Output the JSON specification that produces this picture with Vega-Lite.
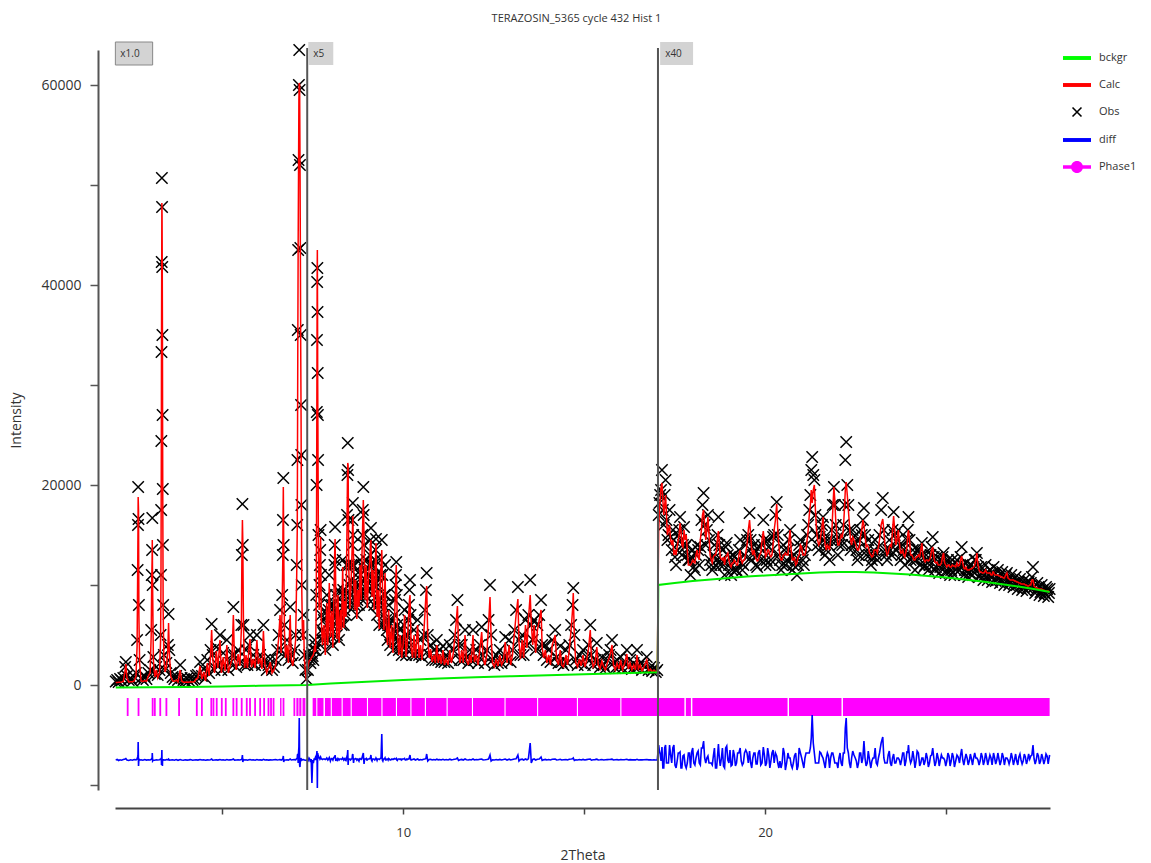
{
"$schema":"https://vega.github.io/schema/vega-lite/v6.json",
"autosize":"none",
"width":935,"height":740,
"padding":{"left":115,"top":50,"right":101,"bottom":73},
"background":"white",
"title":{"text":"TERAZOSIN_5365 cycle 432 Hist 1","fontSize":11,"font":"Open Sans","fontWeight":"normal","color":"#333333","anchor":"middle","offset":17,"dx":-6},
"config":{"view":{"stroke":null},"font":"Open Sans"},
"datasets":{
"pattern":[
{"t":2.06,"obs":350,"calc":250,"diff":-7500},{"t":2.1,"obs":500,"calc":260,"diff":-7450},{"t":2.14,"obs":300,"calc":270,"diff":-7550},{"t":2.18,"obs":600,"calc":280,"diff":-7480},{"t":2.22,"obs":450,"calc":300,"diff":-7520},{"t":2.27,"obs":700,"calc":350,"diff":-7450},{"t":2.32,"obs":1800,"calc":1500,"diff":-7400},{"t":2.34,"obs":2300,"calc":2100,"diff":-7350},{"t":2.37,"obs":900,"calc":700,"diff":-7500},{"t":2.42,"obs":500,"calc":300,"diff":-7550},{"t":2.47,"obs":700,"calc":320,"diff":-7480},{"t":2.52,"obs":400,"calc":330,"diff":-7520},{"t":2.57,"obs":800,"calc":400,"diff":-7450},{"t":2.62,"obs":1200,"calc":900,"diff":-7480},{"t":2.65,"obs":4500,"calc":3800,"diff":-7400},{"t":2.665,"obs":11500,"calc":10500,"diff":-7200},{"t":2.675,"obs":16000,"calc":15500,"diff":-7000},{"t":2.68,"obs":19800,"calc":18800,"diff":-5700},{"t":2.69,"obs":16600,"calc":17500,"diff":-8100},{"t":2.70,"obs":8000,"calc":7000,"diff":-7400},{"t":2.72,"obs":2500,"calc":2200,"diff":-7500},{"t":2.76,"obs":700,"calc":400,"diff":-7480},{"t":2.81,"obs":500,"calc":350,"diff":-7520},{"t":2.86,"obs":900,"calc":450,"diff":-7450},{"t":2.91,"obs":600,"calc":380,"diff":-7510},{"t":2.96,"obs":1200,"calc":900,"diff":-7480},{"t":3.01,"obs":1500,"calc":1200,"diff":-7500},{"t":3.04,"obs":5500,"calc":5000,"diff":-7450},{"t":3.055,"obs":11000,"calc":10500,"diff":-7350},{"t":3.065,"obs":13500,"calc":12500,"diff":-7300},{"t":3.07,"obs":16700,"calc":14500,"diff":-6800},{"t":3.08,"obs":10000,"calc":9500,"diff":-7600},{"t":3.10,"obs":2800,"calc":2500,"diff":-7500},{"t":3.14,"obs":1100,"calc":800,"diff":-7520},{"t":3.18,"obs":1800,"calc":1500,"diff":-7480},{"t":3.22,"obs":1000,"calc":700,"diff":-7500},{"t":3.27,"obs":1500,"calc":1200,"diff":-7470},{"t":3.30,"obs":5000,"calc":4500,"diff":-7400},{"t":3.31,"obs":11000,"calc":10500,"diff":-7450},{"t":3.315,"obs":17500,"calc":17000,"diff":-7400},{"t":3.32,"obs":24400,"calc":23500,"diff":-7300},{"t":3.325,"obs":33300,"calc":35000,"diff":-8000},{"t":3.33,"obs":42300,"calc":41000,"diff":-7200},{"t":3.335,"obs":50700,"calc":48200,"diff":-6500},{"t":3.34,"obs":47800,"calc":47000,"diff":-7700},{"t":3.345,"obs":41800,"calc":42000,"diff":-7600},{"t":3.35,"obs":35000,"calc":36000,"diff":-8100},{"t":3.355,"obs":27000,"calc":26000,"diff":-7400},{"t":3.36,"obs":19600,"calc":18500,"diff":-7600},{"t":3.365,"obs":14000,"calc":13000,"diff":-7450},{"t":3.37,"obs":8000,"calc":7500,"diff":-7500},{"t":3.39,"obs":3000,"calc":2800,"diff":-7480},{"t":3.42,"obs":1500,"calc":1300,"diff":-7520},{"t":3.46,"obs":2200,"calc":1800,"diff":-7450},{"t":3.50,"obs":4000,"calc":3500,"diff":-7480},{"t":3.52,"obs":7100,"calc":6200,"diff":-7400},{"t":3.54,"obs":3500,"calc":3300,"diff":-7520},{"t":3.58,"obs":1200,"calc":900,"diff":-7500},{"t":3.63,"obs":800,"calc":400,"diff":-7480},{"t":3.68,"obs":600,"calc":350,"diff":-7520},{"t":3.73,"obs":900,"calc":500,"diff":-7460},{"t":3.78,"obs":500,"calc":300,"diff":-7530},{"t":3.84,"obs":2000,"calc":1500,"diff":-7450},{"t":3.88,"obs":700,"calc":400,"diff":-7500},{"t":3.93,"obs":500,"calc":280,"diff":-7520},{"t":3.98,"obs":400,"calc":270,"diff":-7480},{"t":4.03,"obs":650,"calc":300,"diff":-7510},{"t":4.08,"obs":450,"calc":280,"diff":-7490},{"t":4.13,"obs":700,"calc":320,"diff":-7460},{"t":4.18,"obs":500,"calc":300,"diff":-7520},{"t":4.23,"obs":600,"calc":330,"diff":-7500},{"t":4.28,"obs":900,"calc":600,"diff":-7480},{"t":4.33,"obs":1000,"calc":700,"diff":-7510},{"t":4.39,"obs":2300,"calc":1900,"diff":-7450},{"t":4.44,"obs":900,"calc":600,"diff":-7500},{"t":4.49,"obs":1600,"calc":1300,"diff":-7480},{"t":4.54,"obs":700,"calc":400,"diff":-7520},{"t":4.59,"obs":2500,"calc":2200,"diff":-7490},{"t":4.64,"obs":1200,"calc":900,"diff":-7500},{"t":4.68,"obs":3500,"calc":3000,"diff":-7470},{"t":4.71,"obs":6100,"calc":5500,"diff":-7400},{"t":4.74,"obs":3000,"calc":2600,"diff":-7520},{"t":4.79,"obs":1500,"calc":1200,"diff":-7500},{"t":4.84,"obs":3800,"calc":3400,"diff":-7480},{"t":4.88,"obs":2000,"calc":1700,"diff":-7510},{"t":4.94,"obs":5000,"calc":4500,"diff":-7450},{"t":4.98,"obs":1500,"calc":1200,"diff":-7500},{"t":5.03,"obs":3200,"calc":2800,"diff":-7480},{"t":5.08,"obs":1800,"calc":1400,"diff":-7520},{"t":5.13,"obs":4500,"calc":4000,"diff":-7460},{"t":5.17,"obs":1500,"calc":1200,"diff":-7500},{"t":5.22,"obs":2200,"calc":1900,"diff":-7490},{"t":5.27,"obs":3000,"calc":2600,"diff":-7480},{"t":5.31,"obs":7800,"calc":7000,"diff":-7400},{"t":5.34,"obs":3000,"calc":2600,"diff":-7510},{"t":5.39,"obs":1800,"calc":1500,"diff":-7500},{"t":5.44,"obs":3500,"calc":3100,"diff":-7480},{"t":5.49,"obs":2200,"calc":1900,"diff":-7500},{"t":5.53,"obs":6000,"calc":5500,"diff":-7450},{"t":5.545,"obs":13000,"calc":12500,"diff":-7400},{"t":5.56,"obs":18100,"calc":16500,"diff":-7000},{"t":5.57,"obs":14000,"calc":14500,"diff":-7700},{"t":5.59,"obs":6000,"calc":5600,"diff":-7450},{"t":5.62,"obs":2000,"calc":1700,"diff":-7500},{"t":5.66,"obs":3500,"calc":3000,"diff":-7480},{"t":5.70,"obs":2000,"calc":1700,"diff":-7520},{"t":5.74,"obs":4000,"calc":3600,"diff":-7470},{"t":5.77,"obs":5000,"calc":4600,"diff":-7450},{"t":5.81,"obs":2200,"calc":1800,"diff":-7500},{"t":5.86,"obs":3000,"calc":2600,"diff":-7480},{"t":5.91,"obs":2000,"calc":1700,"diff":-7520},{"t":5.96,"obs":5000,"calc":4500,"diff":-7450},{"t":6.00,"obs":2500,"calc":2100,"diff":-7500},{"t":6.05,"obs":3000,"calc":2700,"diff":-7490},{"t":6.10,"obs":2000,"calc":1600,"diff":-7510},{"t":6.14,"obs":6000,"calc":5400,"diff":-7430},{"t":6.18,"obs":2500,"calc":2100,"diff":-7500},{"t":6.23,"obs":1500,"calc":1200,"diff":-7480},{"t":6.28,"obs":2000,"calc":1700,"diff":-7510},{"t":6.33,"obs":2600,"calc":2300,"diff":-7490},{"t":6.38,"obs":1500,"calc":1200,"diff":-7500},{"t":6.43,"obs":1800,"calc":1500,"diff":-7480},{"t":6.48,"obs":2500,"calc":2000,"diff":-7460},{"t":6.52,"obs":3500,"calc":3200,"diff":-7500},{"t":6.56,"obs":5000,"calc":4600,"diff":-7480},{"t":6.60,"obs":7500,"calc":7000,"diff":-7450},{"t":6.63,"obs":3500,"calc":3200,"diff":-7500},{"t":6.66,"obs":9000,"calc":8500,"diff":-7450},{"t":6.675,"obs":13000,"calc":12500,"diff":-7400},{"t":6.68,"obs":16500,"calc":15500,"diff":-7300},{"t":6.69,"obs":20700,"calc":19800,"diff":-7100},{"t":6.70,"obs":14000,"calc":14500,"diff":-7700},{"t":6.72,"obs":6000,"calc":5500,"diff":-7480},{"t":6.75,"obs":3000,"calc":2700,"diff":-7500},{"t":6.79,"obs":4500,"calc":4000,"diff":-7470},{"t":6.83,"obs":2500,"calc":2200,"diff":-7510},{"t":6.88,"obs":7800,"calc":7000,"diff":-7400},{"t":6.91,"obs":3000,"calc":2600,"diff":-7500},{"t":6.95,"obs":2200,"calc":1900,"diff":-7480},{"t":6.99,"obs":3500,"calc":3000,"diff":-7460},{"t":7.03,"obs":5000,"calc":4500,"diff":-7480},{"t":7.06,"obs":12000,"calc":11000,"diff":-7350},{"t":7.075,"obs":16000,"calc":15500,"diff":-7300},{"t":7.08,"obs":22500,"calc":21000,"diff":-7000},{"t":7.09,"obs":35500,"calc":34000,"diff":-6900},{"t":7.10,"obs":43500,"calc":44000,"diff":-7800},{"t":7.11,"obs":52500,"calc":51000,"diff":-6800},{"t":7.12,"obs":60000,"calc":58500,"diff":-6200},{"t":7.13,"obs":63500,"calc":60200,"diff":-3300},{"t":7.14,"obs":59500,"calc":60000,"diff":-8000},{"t":7.15,"obs":52000,"calc":53000,"diff":-8200},{"t":7.16,"obs":43700,"calc":44000,"diff":-7600},{"t":7.17,"obs":35000,"calc":34000,"diff":-7300},{"t":7.18,"obs":28000,"calc":27000,"diff":-7400},{"t":7.185,"obs":23000,"calc":22000,"diff":-7400},{"t":7.19,"obs":18000,"calc":17500,"diff":-7500},{"t":7.20,"obs":10000,"calc":9500,"diff":-7450},{"t":7.22,"obs":5000,"calc":4500,"diff":-7480},{"t":7.25,"obs":7000,"calc":6500,"diff":-7450},{"t":7.27,"obs":3000,"calc":2800,"diff":-7500},{"t":7.30,"obs":1500,"calc":1200,"diff":-7520},{"t":7.33,"obs":600,"calc":400,"diff":-7500},
{"t":7.37,"obs":1500,"calc":1800,"diff":-7600},{"t":7.40,"obs":3000,"calc":2400,"diff":-7300},{"t":7.44,"obs":2200,"calc":2500,"diff":-7700},{"t":7.48,"obs":3200,"calc":2800,"diff":-9800},{"t":7.52,"obs":2500,"calc":3000,"diff":-7800},{"t":7.56,"obs":4500,"calc":4000,"diff":-7400},{"t":7.58,"obs":3500,"calc":3300,"diff":-7500},{"t":7.60,"obs":9000,"calc":8000,"diff":-7200},{"t":7.61,"obs":20000,"calc":19000,"diff":-7000},{"t":7.615,"obs":27300,"calc":26000,"diff":-6800},{"t":7.62,"obs":34500,"calc":33000,"diff":-6600},{"t":7.625,"obs":40300,"calc":41000,"diff":-8200},{"t":7.63,"obs":41700,"calc":43500,"diff":-10300},{"t":7.635,"obs":37300,"calc":38000,"diff":-8000},{"t":7.64,"obs":31200,"calc":30000,"diff":-6800},{"t":7.645,"obs":27000,"calc":26000,"diff":-7000},{"t":7.65,"obs":22500,"calc":21500,"diff":-7000},{"t":7.66,"obs":15000,"calc":14000,"diff":-7100},{"t":7.68,"obs":8000,"calc":7500,"diff":-7300},{"t":7.70,"obs":12000,"calc":11500,"diff":-7400},{"t":7.72,"obs":15500,"calc":14800,"diff":-7200},{"t":7.74,"obs":7000,"calc":6500,"diff":-7400},{"t":7.77,"obs":4500,"calc":4000,"diff":-7450},{"t":7.81,"obs":6500,"calc":6000,"diff":-7400},{"t":7.85,"obs":3500,"calc":3000,"diff":-7450},{"t":7.89,"obs":9000,"calc":8200,"diff":-7300},{"t":7.92,"obs":4500,"calc":4000,"diff":-7500},{"t":7.96,"obs":11000,"calc":10200,"diff":-7250},{"t":7.99,"obs":5000,"calc":4800,"diff":-7600},{"t":8.03,"obs":8000,"calc":7400,"diff":-7350},{"t":8.06,"obs":4000,"calc":3700,"diff":-7500},{"t":8.10,"obs":12000,"calc":11000,"diff":-7200},{"t":8.12,"obs":15800,"calc":14600,"diff":-7000},{"t":8.14,"obs":9000,"calc":8800,"diff":-7600},{"t":8.17,"obs":5000,"calc":4600,"diff":-7400},{"t":8.20,"obs":9500,"calc":9000,"diff":-7350},{"t":8.23,"obs":4500,"calc":4200,"diff":-7500},{"t":8.27,"obs":8000,"calc":7500,"diff":-7400},{"t":8.30,"obs":6000,"calc":5500,"diff":-7450},{"t":8.33,"obs":12500,"calc":11800,"diff":-7300},{"t":8.36,"obs":6000,"calc":5700,"diff":-7500},{"t":8.39,"obs":9000,"calc":8400,"diff":-7350},{"t":8.42,"obs":7000,"calc":6800,"diff":-7550},{"t":8.45,"obs":17000,"calc":16000,"diff":-7100},{"t":8.47,"obs":24200,"calc":22200,"diff":-6500},{"t":8.48,"obs":21500,"calc":22000,"diff":-8000},{"t":8.50,"obs":12000,"calc":11500,"diff":-7400},{"t":8.53,"obs":8000,"calc":7600,"diff":-7450},{"t":8.56,"obs":10500,"calc":10000,"diff":-7400},{"t":8.59,"obs":14000,"calc":13500,"diff":-7350},{"t":8.61,"obs":18200,"calc":16900,"diff":-6900},{"t":8.63,"obs":12000,"calc":12500,"diff":-7800},{"t":8.66,"obs":8000,"calc":7500,"diff":-7400},{"t":8.69,"obs":11000,"calc":10500,"diff":-7350},{"t":8.72,"obs":7000,"calc":6600,"diff":-7500},{"t":8.75,"obs":10000,"calc":9500,"diff":-7400},{"t":8.78,"obs":8000,"calc":7800,"diff":-7600},{"t":8.81,"obs":12500,"calc":12000,"diff":-7350},{"t":8.84,"obs":9000,"calc":8500,"diff":-7450},{"t":8.87,"obs":15000,"calc":14200,"diff":-7200},{"t":8.90,"obs":19800,"calc":18500,"diff":-6800},{"t":8.92,"obs":14000,"calc":14500,"diff":-7900},{"t":8.95,"obs":9000,"calc":8500,"diff":-7400},{"t":8.98,"obs":12500,"calc":12000,"diff":-7350},{"t":9.01,"obs":8000,"calc":7700,"diff":-7500},{"t":9.04,"obs":11000,"calc":10500,"diff":-7400},{"t":9.08,"obs":13000,"calc":12500,"diff":-7350},{"t":9.11,"obs":15700,"calc":14500,"diff":-7000},{"t":9.14,"obs":9000,"calc":8800,"diff":-7600},{"t":9.17,"obs":12000,"calc":11500,"diff":-7400},{"t":9.20,"obs":8000,"calc":7500,"diff":-7450},{"t":9.23,"obs":12500,"calc":12000,"diff":-7400},{"t":9.25,"obs":14600,"calc":14200,"diff":-7300},{"t":9.28,"obs":7000,"calc":6800,"diff":-7550},{"t":9.31,"obs":10000,"calc":9500,"diff":-7400},{"t":9.34,"obs":6000,"calc":5600,"diff":-7450},{"t":9.37,"obs":11000,"calc":10500,"diff":-7350},{"t":9.41,"obs":14500,"calc":13500,"diff":-4900},{"t":9.44,"obs":8000,"calc":7800,"diff":-7600},{"t":9.47,"obs":6000,"calc":5500,"diff":-7400},{"t":9.50,"obs":12000,"calc":11200,"diff":-7300},{"t":9.53,"obs":6500,"calc":6200,"diff":-7500},{"t":9.57,"obs":4500,"calc":4000,"diff":-7400},{"t":9.60,"obs":8000,"calc":7500,"diff":-7350},{"t":9.64,"obs":4000,"calc":3700,"diff":-7500},{"t":9.68,"obs":6500,"calc":6000,"diff":-7400},{"t":9.72,"obs":3500,"calc":3200,"diff":-7450},{"t":9.76,"obs":7000,"calc":6400,"diff":-7350},{"t":9.79,"obs":10000,"calc":9500,"diff":-7400},{"t":9.81,"obs":12300,"calc":12000,"diff":-7350},{"t":9.84,"obs":6000,"calc":5800,"diff":-7550},{"t":9.88,"obs":3500,"calc":3000,"diff":-7400},{"t":9.92,"obs":5500,"calc":5000,"diff":-7450},{"t":9.96,"obs":3000,"calc":2700,"diff":-7500},{"t":10.00,"obs":4500,"calc":4000,"diff":-7400},{"t":10.04,"obs":7500,"calc":7000,"diff":-7350},{"t":10.08,"obs":3000,"calc":2800,"diff":-7500},{"t":10.12,"obs":5000,"calc":4600,"diff":-7450},{"t":10.16,"obs":8000,"calc":7500,"diff":-7400},{"t":10.19,"obs":10500,"calc":9000,"diff":-7000},{"t":10.22,"obs":4000,"calc":3800,"diff":-7500},{"t":10.26,"obs":3000,"calc":2700,"diff":-7450},{"t":10.30,"obs":5500,"calc":5000,"diff":-7400},{"t":10.34,"obs":3000,"calc":2700,"diff":-7500},{"t":10.40,"obs":6500,"calc":6000,"diff":-7400},{"t":10.44,"obs":3000,"calc":2700,"diff":-7500},{"t":10.48,"obs":4500,"calc":4000,"diff":-7450},{"t":10.52,"obs":2800,"calc":2500,"diff":-7500},{"t":10.56,"obs":5000,"calc":4500,"diff":-7420},{"t":10.60,"obs":7500,"calc":7000,"diff":-7400},{"t":10.63,"obs":9500,"calc":9000,"diff":-7350},{"t":10.65,"obs":11200,"calc":9900,"diff":-6900},{"t":10.68,"obs":5000,"calc":4800,"diff":-7600},{"t":10.72,"obs":3000,"calc":2700,"diff":-7450},{"t":10.76,"obs":4000,"calc":3600,"diff":-7430},{"t":10.80,"obs":2500,"calc":2300,"diff":-7500},{"t":10.85,"obs":3500,"calc":3000,"diff":-7450},{"t":10.89,"obs":2500,"calc":2200,"diff":-7500},{"t":10.93,"obs":4500,"calc":4000,"diff":-7420},{"t":10.97,"obs":2500,"calc":2200,"diff":-7480},{"t":11.01,"obs":3500,"calc":3100,"diff":-7450},{"t":11.05,"obs":2300,"calc":2100,"diff":-7500},{"t":11.10,"obs":3900,"calc":3500,"diff":-7430},{"t":11.14,"obs":2300,"calc":2000,"diff":-7500},{"t":11.19,"obs":3000,"calc":2600,"diff":-7450},{"t":11.24,"obs":2200,"calc":2000,"diff":-7500},{"t":11.29,"obs":4000,"calc":3500,"diff":-7420},{"t":11.33,"obs":2500,"calc":2200,"diff":-7480},{"t":11.38,"obs":3500,"calc":3000,"diff":-7450},{"t":11.42,"obs":5000,"calc":4500,"diff":-7420},{"t":11.46,"obs":6500,"calc":6000,"diff":-7400},{"t":11.50,"obs":8500,"calc":7900,"diff":-7300},{"t":11.53,"obs":4000,"calc":3800,"diff":-7550},{"t":11.57,"obs":2500,"calc":2200,"diff":-7480},{"t":11.62,"obs":4000,"calc":3500,"diff":-7440},{"t":11.66,"obs":2500,"calc":2200,"diff":-7500},{"t":11.71,"obs":5500,"calc":5000,"diff":-7400},{"t":11.75,"obs":2800,"calc":2500,"diff":-7480},{"t":11.80,"obs":2200,"calc":2000,"diff":-7500},{"t":11.84,"obs":3500,"calc":3000,"diff":-7450},{"t":11.88,"obs":2500,"calc":2200,"diff":-7500},{"t":11.93,"obs":5500,"calc":5000,"diff":-7400},{"t":11.97,"obs":2500,"calc":2300,"diff":-7500},{"t":12.02,"obs":3500,"calc":3000,"diff":-7450},{"t":12.07,"obs":2200,"calc":2000,"diff":-7480},{"t":12.12,"obs":4000,"calc":3600,"diff":-7430},{"t":12.17,"obs":5800,"calc":5300,"diff":-7400},{"t":12.21,"obs":3000,"calc":2700,"diff":-7500},{"t":12.26,"obs":2200,"calc":2000,"diff":-7480},{"t":12.31,"obs":3500,"calc":3000,"diff":-7450},{"t":12.36,"obs":6500,"calc":6000,"diff":-7400},{"t":12.40,"obs":10000,"calc":8800,"diff":-7000},{"t":12.43,"obs":5000,"calc":4800,"diff":-7600},{"t":12.47,"obs":2500,"calc":2200,"diff":-7480},{"t":12.52,"obs":2000,"calc":1800,"diff":-7500},{"t":12.57,"obs":3000,"calc":2600,"diff":-7450},{"t":12.62,"obs":2200,"calc":1900,"diff":-7500},{"t":12.67,"obs":3500,"calc":3000,"diff":-7440},{"t":12.72,"obs":2200,"calc":2000,"diff":-7500},{"t":12.77,"obs":2800,"calc":2400,"diff":-7460},{"t":12.82,"obs":4800,"calc":4300,"diff":-7400},{"t":12.87,"obs":2500,"calc":2200,"diff":-7500},{"t":12.93,"obs":4500,"calc":4000,"diff":-7420},{"t":12.97,"obs":2300,"calc":2000,"diff":-7500},{"t":13.02,"obs":3500,"calc":3000,"diff":-7450},{"t":13.07,"obs":5500,"calc":5000,"diff":-7400},{"t":13.12,"obs":7500,"calc":7000,"diff":-7380},{"t":13.17,"obs":9800,"calc":8600,"diff":-7000},{"t":13.20,"obs":4500,"calc":4300,"diff":-7600},{"t":13.24,"obs":3000,"calc":2600,"diff":-7450},{"t":13.29,"obs":5000,"calc":4500,"diff":-7420},{"t":13.33,"obs":3000,"calc":2700,"diff":-7500},{"t":13.38,"obs":6500,"calc":6000,"diff":-7400},{"t":13.42,"obs":4000,"calc":3700,"diff":-7480},{"t":13.46,"obs":7000,"calc":6500,"diff":-7380},{"t":13.51,"obs":10500,"calc":9000,"diff":-5800},{"t":13.54,"obs":6000,"calc":6200,"diff":-7800},{"t":13.58,"obs":4500,"calc":4000,"diff":-7450},{"t":13.62,"obs":6500,"calc":6000,"diff":-7400},{"t":13.66,"obs":3500,"calc":3200,"diff":-7500},{"t":13.71,"obs":6000,"calc":5500,"diff":-7420},{"t":13.76,"obs":7000,"calc":6500,"diff":-7400},{"t":13.81,"obs":8500,"calc":7500,"diff":-7200},{"t":13.84,"obs":4000,"calc":3800,"diff":-7550},{"t":13.88,"obs":3000,"calc":2700,"diff":-7480},{"t":13.93,"obs":4000,"calc":3500,"diff":-7440},{"t":13.97,"obs":2500,"calc":2200,"diff":-7500},{"t":14.02,"obs":3500,"calc":3000,"diff":-7450},{"t":14.07,"obs":2300,"calc":2000,"diff":-7500},{"t":14.12,"obs":4500,"calc":4000,"diff":-7420},{"t":14.20,"obs":5500,"calc":5000,"diff":-7400},{"t":14.24,"obs":2800,"calc":2500,"diff":-7500},{"t":14.29,"obs":2200,"calc":2000,"diff":-7480},{"t":14.34,"obs":3900,"calc":3500,"diff":-7430},{"t":14.38,"obs":2300,"calc":2000,"diff":-7500},{"t":14.43,"obs":2000,"calc":1800,"diff":-7480},{"t":14.50,"obs":3500,"calc":3000,"diff":-7450},{"t":14.54,"obs":2200,"calc":2000,"diff":-7500},{"t":14.59,"obs":4000,"calc":3500,"diff":-7420},{"t":14.64,"obs":6000,"calc":5500,"diff":-7400},{"t":14.68,"obs":8000,"calc":7500,"diff":-7380},{"t":14.70,"obs":9700,"calc":9200,"diff":-7300},{"t":14.73,"obs":5000,"calc":4800,"diff":-7550},{"t":14.77,"obs":2500,"calc":2200,"diff":-7480},{"t":14.82,"obs":2000,"calc":1800,"diff":-7500},{"t":14.87,"obs":3000,"calc":2600,"diff":-7450},{"t":14.92,"obs":2200,"calc":1900,"diff":-7500},{"t":14.97,"obs":3500,"calc":3000,"diff":-7440},{"t":15.02,"obs":2000,"calc":1800,"diff":-7500},{"t":15.07,"obs":2800,"calc":2500,"diff":-7460},{"t":15.12,"obs":4000,"calc":3600,"diff":-7430},{"t":15.17,"obs":6000,"calc":5500,"diff":-7400},{"t":15.20,"obs":3000,"calc":2800,"diff":-7520},{"t":15.25,"obs":2000,"calc":1800,"diff":-7480},{"t":15.30,"obs":2500,"calc":2200,"diff":-7460},{"t":15.35,"obs":4200,"calc":3800,"diff":-7420},{"t":15.39,"obs":2200,"calc":2000,"diff":-7500},{"t":15.44,"obs":1800,"calc":1600,"diff":-7480},{"t":15.49,"obs":2800,"calc":2400,"diff":-7450},{"t":15.54,"obs":2000,"calc":1800,"diff":-7500},{"t":15.59,"obs":1700,"calc":1500,"diff":-7480},{"t":15.64,"obs":2500,"calc":2200,"diff":-7460},{"t":15.69,"obs":3000,"calc":2700,"diff":-7450},{"t":15.73,"obs":3500,"calc":3200,"diff":-7440},{"t":15.77,"obs":4500,"calc":4000,"diff":-7420},{"t":15.81,"obs":2200,"calc":2000,"diff":-7500},{"t":15.86,"obs":1700,"calc":1500,"diff":-7480},{"t":15.91,"obs":2500,"calc":2200,"diff":-7460},{"t":15.96,"obs":1800,"calc":1600,"diff":-7500},{"t":16.01,"obs":2800,"calc":2500,"diff":-7450},{"t":16.06,"obs":1700,"calc":1500,"diff":-7480},{"t":16.11,"obs":2200,"calc":2000,"diff":-7470},{"t":16.18,"obs":3500,"calc":3100,"diff":-7430},{"t":16.22,"obs":1800,"calc":1600,"diff":-7500},{"t":16.27,"obs":2500,"calc":2200,"diff":-7460},{"t":16.32,"obs":1600,"calc":1500,"diff":-7490},{"t":16.37,"obs":2200,"calc":2000,"diff":-7470},{"t":16.42,"obs":1700,"calc":1500,"diff":-7490},{"t":16.46,"obs":3500,"calc":3000,"diff":-7430},{"t":16.50,"obs":1800,"calc":1600,"diff":-7500},{"t":16.55,"obs":2200,"calc":2000,"diff":-7470},{"t":16.60,"obs":1500,"calc":1400,"diff":-7490},{"t":16.65,"obs":2000,"calc":1800,"diff":-7470},{"t":16.73,"obs":2800,"calc":2500,"diff":-7450},{"t":16.78,"obs":1500,"calc":1400,"diff":-7490},{"t":16.83,"obs":1800,"calc":1600,"diff":-7470},{"t":16.88,"obs":1400,"calc":1300,"diff":-7500},{"t":16.93,"obs":1700,"calc":1500,"diff":-7480},{"t":16.98,"obs":1300,"calc":1300,"diff":-7500},{"t":17.02,"obs":1500,"calc":1400,"diff":-7490},
{"t":17.06,"obs":17000,"calc":15500,"diff":-6000},{"t":17.10,"obs":19000,"calc":18500,"diff":-6900},{"t":17.15,"obs":21500,"calc":20200,"diff":-6200},{"t":17.20,"obs":16000,"calc":17000,"diff":-8300},{"t":17.25,"obs":20500,"calc":19000,"diff":-6000},{"t":17.30,"obs":14500,"calc":15000,"diff":-7800},{"t":17.36,"obs":17500,"calc":16000,"diff":-6000},{"t":17.42,"obs":13500,"calc":14000,"diff":-7800},{"t":17.48,"obs":14500,"calc":13000,"diff":-6000},{"t":17.54,"obs":12000,"calc":13000,"diff":-8300},{"t":17.60,"obs":15000,"calc":14500,"diff":-6800},{"t":17.65,"obs":16800,"calc":16200,"diff":-6700},{"t":17.70,"obs":13000,"calc":14000,"diff":-8300},{"t":17.76,"obs":15800,"calc":15500,"diff":-7000},{"t":17.82,"obs":14000,"calc":15000,"diff":-8300},{"t":17.88,"obs":12500,"calc":12000,"diff":-6800},{"t":17.94,"obs":11000,"calc":12000,"diff":-8300},{"t":18.00,"obs":13500,"calc":12500,"diff":-6300},{"t":18.06,"obs":11500,"calc":12200,"diff":-8000},{"t":18.12,"obs":14000,"calc":13500,"diff":-6800},{"t":18.18,"obs":12000,"calc":12500,"diff":-7800},{"t":18.24,"obs":16500,"calc":15500,"diff":-6300},{"t":18.30,"obs":19200,"calc":17500,"diff":-5600},{"t":18.36,"obs":14000,"calc":14500,"diff":-7800},{"t":18.42,"obs":17000,"calc":16800,"diff":-7100},{"t":18.48,"obs":12500,"calc":13000,"diff":-7800},{"t":18.54,"obs":11500,"calc":12200,"diff":-8000},{"t":18.60,"obs":14000,"calc":13000,"diff":-6300},{"t":18.66,"obs":12500,"calc":13500,"diff":-8300},{"t":18.71,"obs":16800,"calc":15400,"diff":-5900},{"t":18.76,"obs":12000,"calc":12800,"diff":-8100},{"t":18.82,"obs":13500,"calc":12500,"diff":-6300},{"t":18.88,"obs":11000,"calc":12000,"diff":-8300},{"t":18.94,"obs":14200,"calc":13000,"diff":-6100},{"t":19.00,"obs":12000,"calc":12500,"diff":-7800},{"t":19.06,"obs":11000,"calc":11800,"diff":-8100},{"t":19.12,"obs":13000,"calc":12200,"diff":-6500},{"t":19.18,"obs":11500,"calc":12300,"diff":-8100},{"t":19.24,"obs":12500,"calc":12000,"diff":-6800},{"t":19.31,"obs":14500,"calc":13500,"diff":-6300},{"t":19.37,"obs":11500,"calc":12200,"diff":-8000},{"t":19.43,"obs":13000,"calc":12500,"diff":-6800},{"t":19.50,"obs":14500,"calc":14000,"diff":-6800},{"t":19.57,"obs":17200,"calc":16500,"diff":-6600},{"t":19.63,"obs":12500,"calc":13500,"diff":-8300},{"t":19.69,"obs":14000,"calc":13500,"diff":-6800},{"t":19.75,"obs":12000,"calc":12600,"diff":-7900},{"t":19.81,"obs":13000,"calc":12500,"diff":-6800},{"t":19.88,"obs":12500,"calc":13200,"diff":-8000},{"t":19.95,"obs":16500,"calc":15400,"diff":-6200},{"t":20.01,"obs":12000,"calc":12800,"diff":-8100},{"t":20.07,"obs":14500,"calc":13500,"diff":-6300},{"t":20.13,"obs":12000,"calc":13000,"diff":-8300},{"t":20.19,"obs":13500,"calc":13000,"diff":-6800},{"t":20.25,"obs":15000,"calc":15500,"diff":-7800},{"t":20.32,"obs":18300,"calc":18100,"diff":-7100},{"t":20.38,"obs":13000,"calc":14000,"diff":-8300},{"t":20.44,"obs":11500,"calc":12500,"diff":-8300},{"t":20.50,"obs":14000,"calc":13000,"diff":-6300},{"t":20.56,"obs":12000,"calc":13200,"diff":-8500},{"t":20.63,"obs":13500,"calc":13000,"diff":-6800},{"t":20.69,"obs":15500,"calc":15500,"diff":-7300},{"t":20.75,"obs":11500,"calc":12500,"diff":-8300},{"t":20.81,"obs":13000,"calc":12800,"diff":-7100},{"t":20.88,"obs":11000,"calc":12200,"diff":-8500},{"t":20.94,"obs":14000,"calc":13000,"diff":-6300},{"t":21.01,"obs":13800,"calc":13800,"diff":-7300},{"t":21.07,"obs":12000,"calc":13000,"diff":-8300},{"t":21.13,"obs":14000,"calc":13500,"diff":-6800},{"t":21.19,"obs":16000,"calc":15500,"diff":-6800},{"t":21.25,"obs":19000,"calc":18000,"diff":-6300},{"t":21.30,"obs":22800,"calc":18200,"diff":-3000},{"t":21.36,"obs":20500,"calc":20000,"diff":-6800},{"t":21.42,"obs":15000,"calc":15500,"diff":-7800},{"t":21.48,"obs":13500,"calc":14000,"diff":-7800},{"t":21.54,"obs":15500,"calc":15000,"diff":-6800},{"t":21.60,"obs":16800,"calc":16800,"diff":-7300},{"t":21.66,"obs":13000,"calc":14000,"diff":-8300},{"t":21.72,"obs":14500,"calc":14000,"diff":-6800},{"t":21.78,"obs":12500,"calc":13500,"diff":-8300},{"t":21.84,"obs":15500,"calc":15000,"diff":-6800},{"t":21.90,"obs":19800,"calc":19800,"diff":-7300},{"t":21.95,"obs":16000,"calc":16500,"diff":-7800},{"t":22.01,"obs":13000,"calc":14000,"diff":-8300},{"t":22.07,"obs":15000,"calc":14500,"diff":-6800},{"t":22.13,"obs":14000,"calc":14800,"diff":-8100},{"t":22.19,"obs":18000,"calc":17500,"diff":-6800},{"t":22.24,"obs":24300,"calc":20300,"diff":-3300},{"t":22.30,"obs":18000,"calc":17500,"diff":-6800},{"t":22.36,"obs":13500,"calc":14500,"diff":-8300},{"t":22.42,"obs":15500,"calc":14800,"diff":-6600},{"t":22.49,"obs":14200,"calc":14200,"diff":-7300},{"t":22.55,"obs":12500,"calc":13500,"diff":-8300},{"t":22.61,"obs":14500,"calc":14000,"diff":-6800},{"t":22.67,"obs":15000,"calc":15500,"diff":-7800},{"t":22.73,"obs":17700,"calc":16000,"diff":-5600},{"t":22.79,"obs":13000,"calc":13800,"diff":-8100},{"t":22.85,"obs":14500,"calc":13800,"diff":-6600},{"t":22.92,"obs":12000,"calc":13000,"diff":-8300},{"t":22.98,"obs":12900,"calc":12900,"diff":-7300},{"t":23.04,"obs":14500,"calc":13500,"diff":-6300},{"t":23.10,"obs":12500,"calc":13200,"diff":-8000},{"t":23.16,"obs":15000,"calc":14500,"diff":-6800},{"t":23.25,"obs":18700,"calc":16600,"diff":-5200},{"t":23.31,"obs":13500,"calc":14000,"diff":-7800},{"t":23.37,"obs":12500,"calc":13000,"diff":-7800},{"t":23.43,"obs":14500,"calc":13800,"diff":-6600},{"t":23.49,"obs":13000,"calc":13800,"diff":-8100},{"t":23.55,"obs":17300,"calc":16900,"diff":-6900},{"t":23.61,"obs":13500,"calc":14000,"diff":-7800},{"t":23.68,"obs":15500,"calc":15500,"diff":-7300},{"t":23.74,"obs":12500,"calc":13200,"diff":-8000},{"t":23.80,"obs":14000,"calc":13500,"diff":-6800},{"t":23.86,"obs":12000,"calc":12800,"diff":-8100},{"t":23.92,"obs":14500,"calc":13800,"diff":-6600},{"t":23.96,"obs":16800,"calc":15500,"diff":-6000},{"t":24.02,"obs":12500,"calc":13000,"diff":-7800},{"t":24.08,"obs":13500,"calc":12800,"diff":-6600},{"t":24.14,"obs":11500,"calc":12500,"diff":-8300},{"t":24.20,"obs":13500,"calc":12800,"diff":-6600},{"t":24.27,"obs":12000,"calc":12800,"diff":-8100},{"t":24.33,"obs":14200,"calc":14200,"diff":-7300},{"t":24.39,"obs":11800,"calc":12500,"diff":-8000},{"t":24.45,"obs":13000,"calc":12500,"diff":-6800},{"t":24.51,"obs":11500,"calc":12400,"diff":-8200},{"t":24.57,"obs":13000,"calc":12800,"diff":-7100},{"t":24.63,"obs":14800,"calc":13800,"diff":-6300},{"t":24.69,"obs":11500,"calc":12300,"diff":-8100},{"t":24.75,"obs":12800,"calc":12300,"diff":-6800},{"t":24.81,"obs":11200,"calc":12000,"diff":-8100},{"t":24.87,"obs":12500,"calc":12200,"diff":-7000},{"t":24.93,"obs":13200,"calc":13200,"diff":-7300},{"t":24.99,"obs":11200,"calc":12000,"diff":-8100},{"t":25.05,"obs":12500,"calc":12000,"diff":-6800},{"t":25.11,"obs":11000,"calc":11800,"diff":-8100},{"t":25.17,"obs":12500,"calc":12000,"diff":-6800},{"t":25.23,"obs":11000,"calc":11900,"diff":-8200},{"t":25.30,"obs":12500,"calc":12200,"diff":-7000},{"t":25.37,"obs":11500,"calc":12000,"diff":-7800},{"t":25.43,"obs":13800,"calc":12900,"diff":-6400},{"t":25.49,"obs":11000,"calc":11700,"diff":-8000},{"t":25.55,"obs":12200,"calc":11800,"diff":-6900},{"t":25.61,"obs":10800,"calc":11500,"diff":-8000},{"t":25.67,"obs":12000,"calc":11600,"diff":-6900},{"t":25.73,"obs":11000,"calc":11700,"diff":-8000},{"t":25.79,"obs":12500,"calc":12000,"diff":-6800},{"t":25.85,"obs":13200,"calc":13200,"diff":-7300},{"t":25.91,"obs":10800,"calc":11500,"diff":-8000},{"t":25.97,"obs":11800,"calc":11300,"diff":-6800},{"t":26.03,"obs":10500,"calc":11200,"diff":-8000},{"t":26.09,"obs":12000,"calc":11500,"diff":-6800},{"t":26.15,"obs":10500,"calc":11200,"diff":-8000},{"t":26.21,"obs":11500,"calc":11200,"diff":-7000},{"t":26.27,"obs":10300,"calc":11000,"diff":-8000},{"t":26.31,"obs":11800,"calc":11300,"diff":-6800},{"t":26.37,"obs":10400,"calc":11000,"diff":-7900},{"t":26.43,"obs":11500,"calc":11000,"diff":-6800},{"t":26.49,"obs":10200,"calc":10900,"diff":-8000},{"t":26.55,"obs":11300,"calc":10800,"diff":-6800},{"t":26.61,"obs":10000,"calc":10700,"diff":-8000},{"t":26.68,"obs":11200,"calc":11200,"diff":-7300},{"t":26.74,"obs":10000,"calc":10600,"diff":-7900},{"t":26.80,"obs":11000,"calc":10500,"diff":-6800},{"t":26.86,"obs":9800,"calc":10500,"diff":-8000},{"t":26.92,"obs":10800,"calc":10400,"diff":-6900},{"t":26.98,"obs":9600,"calc":10300,"diff":-8000},{"t":27.04,"obs":10600,"calc":10200,"diff":-6900},{"t":27.10,"obs":9500,"calc":10100,"diff":-7900},{"t":27.16,"obs":10500,"calc":10100,"diff":-6900},{"t":27.22,"obs":9400,"calc":10000,"diff":-7900},{"t":27.28,"obs":10300,"calc":9900,"diff":-6900},{"t":27.34,"obs":10200,"calc":10000,"diff":-7100},{"t":27.40,"obs":11800,"calc":10500,"diff":-6000},{"t":27.46,"obs":9200,"calc":9800,"diff":-7900},{"t":27.52,"obs":10200,"calc":9700,"diff":-6800},{"t":27.58,"obs":9000,"calc":9600,"diff":-7900},{"t":27.64,"obs":10000,"calc":9600,"diff":-6900},{"t":27.70,"obs":8900,"calc":9500,"diff":-7900},{"t":27.76,"obs":9800,"calc":9400,"diff":-6900},{"t":27.82,"obs":8800,"calc":9400,"diff":-7900},{"t":27.86,"obs":9600,"calc":9300,"diff":-7000},
{"t":7.42,"obs":2600,"calc":2500,"diff":-7400},{"t":7.46,"obs":2800,"calc":2700,"diff":-7400},{"t":7.50,"obs":2900,"calc":2900,"diff":-7500},{"t":7.54,"obs":3500,"calc":3400,"diff":-7400},{"t":7.57,"obs":4000,"calc":3700,"diff":-7300},{"t":7.69,"obs":10000,"calc":9500,"diff":-7300},{"t":7.71,"obs":13500,"calc":13000,"diff":-7300},{"t":7.73,"obs":11000,"calc":10500,"diff":-7300},{"t":7.755,"obs":5500,"calc":5200,"diff":-7400},{"t":7.79,"obs":5200,"calc":5000,"diff":-7400},{"t":7.83,"obs":5000,"calc":4600,"diff":-7400},{"t":7.87,"obs":6000,"calc":5500,"diff":-7400},{"t":7.905,"obs":7000,"calc":6500,"diff":-7400},{"t":7.94,"obs":7500,"calc":7000,"diff":-7400},{"t":7.975,"obs":8000,"calc":7500,"diff":-7400},{"t":8.01,"obs":6500,"calc":6200,"diff":-7400},{"t":8.045,"obs":6000,"calc":5500,"diff":-7400},{"t":8.08,"obs":8000,"calc":7500,"diff":-7300},{"t":8.11,"obs":14000,"calc":13500,"diff":-7300},{"t":8.13,"obs":12500,"calc":12000,"diff":-7300},{"t":8.155,"obs":7000,"calc":6500,"diff":-7400},{"t":8.185,"obs":7200,"calc":7000,"diff":-7500},{"t":8.215,"obs":7000,"calc":6800,"diff":-7400},{"t":8.25,"obs":6500,"calc":6000,"diff":-7400},{"t":8.285,"obs":7000,"calc":6500,"diff":-7400},{"t":8.315,"obs":9000,"calc":8800,"diff":-7400},{"t":8.345,"obs":9500,"calc":9000,"diff":-7400},{"t":8.375,"obs":7500,"calc":7000,"diff":-7400},{"t":8.405,"obs":8000,"calc":7800,"diff":-7500},{"t":8.435,"obs":12000,"calc":11500,"diff":-7400},{"t":8.46,"obs":21000,"calc":20000,"diff":-7000},{"t":8.49,"obs":16500,"calc":16500,"diff":-7400},{"t":8.515,"obs":10000,"calc":9500,"diff":-7400},{"t":8.545,"obs":9000,"calc":8800,"diff":-7500},{"t":8.575,"obs":12000,"calc":11800,"diff":-7400},{"t":8.60,"obs":16500,"calc":15500,"diff":-7000},{"t":8.62,"obs":15000,"calc":15000,"diff":-7400},{"t":8.645,"obs":10000,"calc":9800,"diff":-7400},{"t":8.675,"obs":9500,"calc":9000,"diff":-7400},{"t":8.705,"obs":9000,"calc":8500,"diff":-7400},{"t":8.735,"obs":8500,"calc":8000,"diff":-7400},{"t":8.765,"obs":9000,"calc":8800,"diff":-7500},{"t":8.795,"obs":10000,"calc":9800,"diff":-7400},{"t":8.825,"obs":11000,"calc":10500,"diff":-7400},{"t":8.855,"obs":12000,"calc":11500,"diff":-7400},{"t":8.885,"obs":17500,"calc":16500,"diff":-7000},{"t":8.91,"obs":17000,"calc":17000,"diff":-7400},{"t":8.935,"obs":11500,"calc":11000,"diff":-7400},{"t":8.965,"obs":10500,"calc":10200,"diff":-7400},{"t":8.995,"obs":10000,"calc":9800,"diff":-7500},{"t":9.025,"obs":9500,"calc":9000,"diff":-7400},{"t":9.06,"obs":12000,"calc":11500,"diff":-7400},{"t":9.095,"obs":14500,"calc":14000,"diff":-7300},{"t":9.125,"obs":12000,"calc":11800,"diff":-7500},{"t":9.155,"obs":10500,"calc":10000,"diff":-7400},{"t":9.185,"obs":10000,"calc":9500,"diff":-7400},{"t":9.215,"obs":10000,"calc":9800,"diff":-7500},{"t":9.24,"obs":13500,"calc":13200,"diff":-7400},{"t":9.265,"obs":11000,"calc":10500,"diff":-7400},{"t":9.295,"obs":8500,"calc":8200,"diff":-7400},{"t":9.325,"obs":8000,"calc":7500,"diff":-7400},{"t":9.355,"obs":8500,"calc":8000,"diff":-7400},{"t":9.39,"obs":12500,"calc":12000,"diff":-7300},{"t":9.425,"obs":11000,"calc":10800,"diff":-7500},{"t":9.455,"obs":7000,"calc":6600,"diff":-7400},{"t":9.485,"obs":9000,"calc":8500,"diff":-7400},{"t":9.515,"obs":9000,"calc":8800,"diff":-7500},{"t":9.55,"obs":5500,"calc":5000,"diff":-7400},{"t":9.585,"obs":6000,"calc":5800,"diff":-7500},{"t":9.62,"obs":6000,"calc":5500,"diff":-7400},{"t":9.66,"obs":5000,"calc":4800,"diff":-7500},{"t":9.70,"obs":5000,"calc":4600,"diff":-7400},{"t":9.74,"obs":5500,"calc":5000,"diff":-7400},{"t":9.775,"obs":8500,"calc":8000,"diff":-7400},{"t":9.80,"obs":11000,"calc":10800,"diff":-7400},{"t":9.825,"obs":9000,"calc":8800,"diff":-7500},{"t":9.86,"obs":4500,"calc":4200,"diff":-7400},{"t":9.90,"obs":4500,"calc":4000,"diff":-7400},{"t":9.94,"obs":4200,"calc":3800,"diff":-7400},{"t":9.98,"obs":3800,"calc":3500,"diff":-7400},{"t":10.02,"obs":6000,"calc":5500,"diff":-7400},{"t":10.06,"obs":5000,"calc":4800,"diff":-7500},{"t":10.10,"obs":4000,"calc":3700,"diff":-7400},{"t":10.14,"obs":6500,"calc":6000,"diff":-7400},{"t":10.175,"obs":9500,"calc":8500,"diff":-7200},{"t":10.205,"obs":7000,"calc":6500,"diff":-7400},
{"t":17.08,"obs":18200,"calc":17500,"diff":-6600},{"t":17.125,"obs":19500,"calc":19800,"diff":-7600},{"t":17.175,"obs":17500,"calc":18500,"diff":-8300},{"t":17.225,"obs":19000,"calc":18000,"diff":-6300},{"t":17.275,"obs":16500,"calc":17000,"diff":-7800},{"t":17.33,"obs":15000,"calc":15500,"diff":-7800},{"t":17.39,"obs":14800,"calc":14500,"diff":-7000},{"t":17.45,"obs":15500,"calc":14500,"diff":-6300},{"t":17.51,"obs":12800,"calc":13500,"diff":-8000},{"t":17.57,"obs":13500,"calc":13800,"diff":-7600},{"t":17.625,"obs":15500,"calc":15000,"diff":-6800},{"t":17.675,"obs":14500,"calc":15500,"diff":-8300},{"t":17.73,"obs":14000,"calc":13800,"diff":-7100},{"t":17.79,"obs":13800,"calc":14500,"diff":-8000},{"t":17.85,"obs":13000,"calc":13500,"diff":-7800},{"t":17.91,"obs":12500,"calc":12000,"diff":-6800},{"t":17.97,"obs":12800,"calc":12200,"diff":-6700},{"t":18.03,"obs":11800,"calc":12300,"diff":-7800},{"t":18.09,"obs":13000,"calc":13000,"diff":-7300},{"t":18.15,"obs":13500,"calc":12800,"diff":-6600},{"t":18.21,"obs":13800,"calc":14500,"diff":-8000},{"t":18.27,"obs":18000,"calc":17000,"diff":-6300},{"t":18.33,"obs":16000,"calc":16000,"diff":-7300},{"t":18.39,"obs":15500,"calc":15500,"diff":-7300},{"t":18.45,"obs":14500,"calc":15000,"diff":-7800},{"t":18.51,"obs":12000,"calc":12500,"diff":-7800},{"t":18.57,"obs":13000,"calc":12800,"diff":-7100},{"t":18.63,"obs":12000,"calc":13000,"diff":-8300},{"t":18.685,"obs":15000,"calc":14800,"diff":-7100},{"t":18.735,"obs":14000,"calc":14000,"diff":-7300},{"t":18.79,"obs":12500,"calc":12600,"diff":-7400},{"t":18.85,"obs":12000,"calc":12800,"diff":-8100},{"t":18.91,"obs":13800,"calc":12800,"diff":-6300},{"t":18.97,"obs":13000,"calc":13200,"diff":-7500},{"t":19.03,"obs":12800,"calc":12000,"diff":-6500},{"t":19.09,"obs":11500,"calc":12200,"diff":-8000},{"t":19.15,"obs":12800,"calc":12500,"diff":-7000},{"t":19.21,"obs":11500,"calc":12000,"diff":-7800},{"t":19.275,"obs":13500,"calc":13000,"diff":-6800},{"t":19.34,"obs":12200,"calc":12500,"diff":-7600},{"t":19.40,"obs":12000,"calc":12500,"diff":-7800},{"t":19.465,"obs":14000,"calc":13200,"diff":-6500},{"t":19.535,"obs":15000,"calc":15500,"diff":-7800},{"t":19.60,"obs":14500,"calc":15000,"diff":-7800},{"t":19.66,"obs":13000,"calc":13000,"diff":-7300},{"t":19.72,"obs":13500,"calc":13000,"diff":-6800},{"t":19.78,"obs":11800,"calc":12400,"diff":-7900},{"t":19.845,"obs":13800,"calc":13000,"diff":-6500},{"t":19.915,"obs":14000,"calc":14500,"diff":-7800},{"t":19.98,"obs":14500,"calc":14200,"diff":-7000},{"t":20.04,"obs":12500,"calc":13000,"diff":-7800},{"t":20.10,"obs":13800,"calc":13500,"diff":-7000},{"t":20.16,"obs":12500,"calc":12800,"diff":-7600},{"t":20.22,"obs":14800,"calc":14000,"diff":-6500},{"t":20.285,"obs":17000,"calc":16500,"diff":-6800},{"t":20.35,"obs":15000,"calc":15500,"diff":-7800},{"t":20.41,"obs":12500,"calc":12800,"diff":-7600},{"t":20.47,"obs":12000,"calc":12500,"diff":-7800},{"t":20.53,"obs":13500,"calc":13000,"diff":-6800},{"t":20.595,"obs":12500,"calc":13000,"diff":-7800},{"t":20.66,"obs":14500,"calc":14500,"diff":-7300},{"t":20.72,"obs":12800,"calc":13500,"diff":-8000},{"t":20.78,"obs":12000,"calc":12500,"diff":-7800},{"t":20.845,"obs":12500,"calc":12000,"diff":-6800},{"t":20.91,"obs":12000,"calc":12800,"diff":-8100},{"t":20.975,"obs":14500,"calc":14000,"diff":-6800},{"t":21.04,"obs":12500,"calc":13000,"diff":-7800},{"t":21.10,"obs":13000,"calc":13000,"diff":-7300},{"t":21.16,"obs":15000,"calc":14500,"diff":-6800},{"t":21.22,"obs":17500,"calc":17000,"diff":-6800},{"t":21.275,"obs":21500,"calc":19500,"diff":-5300},{"t":21.33,"obs":21000,"calc":19500,"diff":-5800},{"t":21.39,"obs":17000,"calc":17500,"diff":-7800},{"t":21.45,"obs":14000,"calc":14500,"diff":-7800},{"t":21.51,"obs":14800,"calc":14200,"diff":-6700},{"t":21.57,"obs":16000,"calc":15800,"diff":-7100},{"t":21.63,"obs":14500,"calc":15000,"diff":-7800},{"t":21.69,"obs":13500,"calc":13500,"diff":-7300},{"t":21.75,"obs":14000,"calc":13800,"diff":-7100},{"t":21.81,"obs":14500,"calc":14500,"diff":-7300},{"t":21.87,"obs":18000,"calc":17500,"diff":-6800},{"t":21.925,"obs":18000,"calc":18500,"diff":-7800},{"t":21.98,"obs":14500,"calc":15000,"diff":-7800},{"t":22.04,"obs":14000,"calc":14000,"diff":-7300},{"t":22.10,"obs":14500,"calc":15000,"diff":-7800},{"t":22.16,"obs":16000,"calc":15500,"diff":-6800},{"t":22.215,"obs":22500,"calc":19500,"diff":-4300},{"t":22.27,"obs":20000,"calc":19000,"diff":-6300},{"t":22.33,"obs":15500,"calc":16000,"diff":-7800},{"t":22.39,"obs":14000,"calc":14000,"diff":-7300},{"t":22.455,"obs":14800,"calc":14500,"diff":-7000},{"t":22.52,"obs":13500,"calc":13800,"diff":-7600},{"t":22.58,"obs":13000,"calc":13500,"diff":-7800},{"t":22.64,"obs":15500,"calc":15000,"diff":-6800},{"t":22.70,"obs":16500,"calc":16500,"diff":-7300},{"t":22.76,"obs":15000,"calc":15000,"diff":-7300},{"t":22.82,"obs":13500,"calc":14000,"diff":-7800},{"t":22.885,"obs":13000,"calc":13200,"diff":-7500},{"t":22.95,"obs":12500,"calc":12800,"diff":-7600},{"t":23.01,"obs":13500,"calc":13500,"diff":-7300},{"t":23.07,"obs":13000,"calc":13500,"diff":-7800},{"t":23.13,"obs":13800,"calc":13800,"diff":-7300},{"t":23.205,"obs":17500,"calc":16000,"diff":-5800},{"t":23.28,"obs":15500,"calc":15500,"diff":-7300},{"t":23.34,"obs":13000,"calc":13500,"diff":-7800},{"t":23.40,"obs":13500,"calc":13200,"diff":-7000},{"t":23.46,"obs":13500,"calc":14000,"diff":-7800},{"t":23.52,"obs":15500,"calc":15500,"diff":-7300},{"t":23.58,"obs":15000,"calc":15500,"diff":-7800},{"t":23.645,"obs":14500,"calc":14500,"diff":-7300},{"t":23.71,"obs":14000,"calc":14200,"diff":-7500},{"t":23.77,"obs":13000,"calc":13200,"diff":-7500},{"t":23.83,"obs":13500,"calc":13000,"diff":-6800},{"t":23.89,"obs":13000,"calc":13300,"diff":-7600},{"t":23.94,"obs":15500,"calc":15000,"diff":-6800},{"t":23.99,"obs":14500,"calc":14500,"diff":-7300},{"t":24.05,"obs":12800,"calc":13000,"diff":-7500},{"t":24.11,"obs":12500,"calc":12500,"diff":-7300},{"t":24.17,"obs":12500,"calc":12800,"diff":-7600},{"t":24.235,"obs":13500,"calc":13000,"diff":-6800},{"t":24.30,"obs":13000,"calc":13500,"diff":-7800},{"t":24.36,"obs":13000,"calc":13000,"diff":-7300},{"t":24.42,"obs":12000,"calc":12300,"diff":-7600},{"t":24.48,"obs":12500,"calc":12500,"diff":-7300},{"t":24.54,"obs":12000,"calc":12500,"diff":-7800},{"t":24.60,"obs":13800,"calc":13500,"diff":-7000},{"t":24.66,"obs":12800,"calc":12800,"diff":-7300},{"t":24.72,"obs":11800,"calc":12200,"diff":-7700},{"t":24.78,"obs":12000,"calc":12000,"diff":-7300},{"t":24.84,"obs":11800,"calc":12000,"diff":-7500},{"t":24.90,"obs":12800,"calc":12800,"diff":-7300},{"t":24.96,"obs":12000,"calc":12200,"diff":-7500},{"t":25.02,"obs":11500,"calc":11800,"diff":-7600},{"t":25.08,"obs":12200,"calc":12000,"diff":-7100},{"t":25.14,"obs":11500,"calc":11800,"diff":-7600},{"t":25.20,"obs":12000,"calc":11900,"diff":-7200},{"t":25.265,"obs":11500,"calc":11800,"diff":-7600},{"t":25.335,"obs":12000,"calc":11900,"diff":-7200},{"t":25.40,"obs":12800,"calc":12500,"diff":-7000},{"t":25.46,"obs":12000,"calc":12200,"diff":-7500},{"t":25.52,"obs":11500,"calc":11600,"diff":-7400},{"t":25.58,"obs":11500,"calc":11500,"diff":-7300},{"t":25.64,"obs":11200,"calc":11500,"diff":-7600},{"t":25.70,"obs":11500,"calc":11600,"diff":-7400},{"t":25.76,"obs":11800,"calc":11800,"diff":-7300},{"t":25.82,"obs":12500,"calc":12500,"diff":-7300},{"t":25.88,"obs":11800,"calc":12000,"diff":-7500},{"t":25.94,"obs":11000,"calc":11300,"diff":-7600},{"t":26.00,"obs":11300,"calc":11200,"diff":-7200},{"t":26.06,"obs":11000,"calc":11300,"diff":-7600},{"t":26.12,"obs":11200,"calc":11200,"diff":-7300},{"t":26.18,"obs":11000,"calc":11200,"diff":-7500},{"t":26.24,"obs":11000,"calc":11000,"diff":-7300},{"t":26.29,"obs":11200,"calc":11300,"diff":-7400},{"t":26.34,"obs":11000,"calc":11000,"diff":-7300},{"t":26.40,"obs":10800,"calc":11000,"diff":-7500},{"t":26.46,"obs":10800,"calc":10900,"diff":-7400},{"t":26.52,"obs":10500,"calc":10800,"diff":-7600},{"t":26.58,"obs":10800,"calc":10700,"diff":-7200},{"t":26.645,"obs":11000,"calc":11000,"diff":-7300},{"t":26.71,"obs":10500,"calc":10700,"diff":-7500},{"t":26.77,"obs":10300,"calc":10500,"diff":-7500},{"t":26.83,"obs":10500,"calc":10500,"diff":-7300},{"t":26.89,"obs":10200,"calc":10400,"diff":-7500},{"t":26.95,"obs":10000,"calc":10300,"diff":-7600},{"t":27.01,"obs":10300,"calc":10200,"diff":-7200},{"t":27.07,"obs":9900,"calc":10100,"diff":-7500},{"t":27.13,"obs":9800,"calc":10100,"diff":-7600},{"t":27.19,"obs":10100,"calc":10000,"diff":-7200},{"t":27.25,"obs":9700,"calc":9900,"diff":-7500},{"t":27.31,"obs":9900,"calc":10000,"diff":-7400},{"t":27.37,"obs":10800,"calc":10500,"diff":-7000},{"t":27.43,"obs":9800,"calc":9900,"diff":-7400},{"t":27.49,"obs":9500,"calc":9700,"diff":-7500},{"t":27.55,"obs":9800,"calc":9600,"diff":-7100},{"t":27.61,"obs":9300,"calc":9600,"diff":-7600},{"t":27.67,"obs":9500,"calc":9500,"diff":-7300},{"t":27.73,"obs":9200,"calc":9400,"diff":-7500},{"t":27.79,"obs":9600,"calc":9400,"diff":-7100},{"t":27.84,"obs":9200,"calc":9300,"diff":-7400}
],
"bg":[
{"t":2.06,"bckgr":-250},{"t":3.0,"bckgr":-230},{"t":4.0,"bckgr":-200},{"t":5.0,"bckgr":-150},{"t":6.0,"bckgr":-80},{"t":7.35,"bckgr":0},{"t":8.0,"bckgr":150},{"t":9.0,"bckgr":330},{"t":10.0,"bckgr":500},{"t":11.0,"bckgr":640},{"t":12.0,"bckgr":770},{"t":13.0,"bckgr":880},{"t":14.0,"bckgr":980},{"t":15.0,"bckgr":1080},{"t":16.0,"bckgr":1180},{"t":17.03,"bckgr":1280},
{"t":17.05,"bckgr":10000},{"t":17.5,"bckgr":10200},{"t":18.0,"bckgr":10400},{"t":18.5,"bckgr":10550},{"t":19.0,"bckgr":10700},{"t":19.5,"bckgr":10850},{"t":20.0,"bckgr":10950},{"t":20.5,"bckgr":11050},{"t":21.0,"bckgr":11150},{"t":21.5,"bckgr":11250},{"t":22.0,"bckgr":11300},{"t":22.5,"bckgr":11300},{"t":23.0,"bckgr":11250},{"t":23.5,"bckgr":11150},{"t":24.0,"bckgr":11050},{"t":24.5,"bckgr":10900},{"t":25.0,"bckgr":10750},{"t":25.5,"bckgr":10550},{"t":26.0,"bckgr":10350},{"t":26.5,"bckgr":10100},{"t":27.0,"bckgr":9850},{"t":27.5,"bckgr":9550},{"t":27.86,"bckgr":9300}
],
"refl":[
{"from":2.365,"to":2.415},{"from":2.665,"to":2.715},{"from":3.055,"to":3.105},{"from":3.115,"to":3.165},{"from":3.265,"to":3.315},{"from":3.435,"to":3.485},{"from":3.785,"to":3.835},{"from":4.275,"to":4.325},{"from":4.415,"to":4.465},{"from":4.675,"to":4.725},{"from":4.735,"to":4.785},{"from":4.825,"to":4.875},{"from":4.965,"to":5.015},{"from":5.075,"to":5.125},{"from":5.285,"to":5.335},{"from":5.375,"to":5.425},{"from":5.515,"to":5.565},{"from":5.655,"to":5.705},{"from":5.745,"to":5.795},{"from":5.885,"to":5.935},{"from":6.025,"to":6.075},{"from":6.135,"to":6.185},{"from":6.255,"to":6.305},{"from":6.325,"to":6.375},{"from":6.395,"to":6.445},
{"from":6.60,"to":6.64},{"from":6.67,"to":6.72},{"from":6.97,"to":7.02},{"from":7.05,"to":7.11},{"from":7.13,"to":7.19},{"from":7.22,"to":7.30},{"from":7.50,"to":7.60},{"from":7.63,"to":7.80},{"from":7.84,"to":8.00},{"from":8.03,"to":8.30},{"from":8.33,"to":8.55},{"from":8.58,"to":9.00},{"from":9.03,"to":9.40},{"from":9.43,"to":9.80},{"from":9.83,"to":10.20},{"from":10.23,"to":10.60},{"from":10.63,"to":11.20},{"from":11.23,"to":11.90},{"from":11.93,"to":12.80},{"from":12.83,"to":13.70},{"from":13.73,"to":14.80},{"from":14.83,"to":16.00},{"from":16.03,"to":17.77},{"from":17.81,"to":17.95},{"from":17.99,"to":20.62},{"from":20.66,"to":22.11},{"from":22.15,"to":27.86}
],
"regions":[{"t":7.35},{"t":17.04}],
"boxes":[{"label":"x1.0","from":2.05,"to":3.08},{"label":"x5","from":7.38,"to":8.07},{"label":"x40","from":17.1,"to":18.01}],
"legend":[{"series":"bckgr"},{"series":"Calc"},{"series":"Obs"},{"series":"diff"},{"series":"Phase1"}]
},
"layer":[
{"data":{"name":"refl"},"mark":{"type":"rect","color":"#ff00ff"},
 "encoding":{
  "x":{"field":"from","type":"quantitative","title":"2Theta","scale":{"domain":[2.04,27.87],"nice":false,"zero":false},
   "axis":{"title":"2Theta","offset":18,"values":[5,10,15,20,25],"labelExpr":"datum.value % 10 === 0 ? datum.label : ''","grid":false,"domainColor":"#444444","domainWidth":2,"tickColor":"#444444","tickWidth":1.5,"tickSize":6,"labelFontSize":13,"labelColor":"#333333","labelFont":"Open Sans","labelPadding":12,"titleFontSize":14,"titleFontWeight":"normal","titleColor":"#333333","titleFont":"Open Sans","titlePadding":9}},
  "x2":{"field":"to"},
  "y":{"datum":-1300,"type":"quantitative","title":"Intensity","scale":{"domain":[-10500,63500],"nice":false,"zero":false},
   "axis":{"title":"Intensity","offset":17,"values":[-10000,0,10000,20000,30000,40000,50000,60000],"labelExpr":"datum.value >= 0 && datum.value % 20000 === 0 ? format(datum.value,'d') : ''","grid":false,"domainColor":"#555555","domainWidth":2,"tickColor":"#555555","tickWidth":1.5,"tickSize":8,"labelFontSize":14,"labelColor":"#333333","labelFont":"Open Sans","labelPadding":9,"titleFontSize":14,"titleFontWeight":"normal","titleColor":"#333333","titleFont":"Open Sans","titlePadding":17}},
  "y2":{"datum":-3100}}},
{"data":{"name":"pattern"},"mark":{"type":"line","color":"#0000ff","strokeWidth":1.6},
 "encoding":{"x":{"field":"t","type":"quantitative","title":"2Theta","scale":{"domain":[2.04,27.87],"nice":false,"zero":false}},"y":{"field":"diff","type":"quantitative","title":"Intensity","scale":{"domain":[-10500,63500],"nice":false,"zero":false}}}},
{"data":{"name":"pattern"},"mark":{"type":"point","shape":"M-1,-1L1,1M1,-1L-1,1","filled":false,"color":"#000000","strokeWidth":1.5,"size":130,"opacity":1},
 "encoding":{"x":{"field":"t","type":"quantitative","title":"2Theta","scale":{"domain":[2.04,27.87],"nice":false,"zero":false}},"y":{"field":"obs","type":"quantitative","title":"Intensity","scale":{"domain":[-10500,63500],"nice":false,"zero":false}}}},
{"data":{"name":"pattern"},"mark":{"type":"line","color":"#ff0000","strokeWidth":1.5},
 "encoding":{"x":{"field":"t","type":"quantitative","title":"2Theta","scale":{"domain":[2.04,27.87],"nice":false,"zero":false}},"y":{"field":"calc","type":"quantitative","title":"Intensity","scale":{"domain":[-10500,63500],"nice":false,"zero":false}}}},
{"data":{"name":"bg"},"mark":{"type":"line","color":"#00ee00","strokeWidth":2},
 "encoding":{"x":{"field":"t","type":"quantitative","title":"2Theta","scale":{"domain":[2.04,27.87],"nice":false,"zero":false}},"y":{"field":"bckgr","type":"quantitative","title":"Intensity","scale":{"domain":[-10500,63500],"nice":false,"zero":false}}}},
{"data":{"name":"regions"},"mark":{"type":"rule","color":"#555555","strokeWidth":2},
 "encoding":{"x":{"field":"t","type":"quantitative","title":"2Theta","scale":{"domain":[2.04,27.87],"nice":false,"zero":false}},"y":{"datum":63700,"type":"quantitative"},"y2":{"datum":-10500}}},
{"data":{"name":"boxes"},"mark":{"type":"rect","color":"#d3d3d3","strokeWidth":1},
 "encoding":{"x":{"field":"from","type":"quantitative","title":"2Theta","scale":{"domain":[2.04,27.87],"nice":false,"zero":false}},"x2":{"field":"to"},"y":{"datum":62000,"type":"quantitative"},"y2":{"datum":64300},
  "stroke":{"condition":{"test":"datum.label === 'x1.0'","value":"#888888"},"value":null}}},
{"data":{"name":"boxes"},"mark":{"type":"text","align":"left","baseline":"middle","dx":5,"fontSize":10,"font":"Open Sans","color":"#333333"},
 "encoding":{"x":{"field":"from","type":"quantitative","title":"2Theta","scale":{"domain":[2.04,27.87],"nice":false,"zero":false}},"y":{"datum":63150,"type":"quantitative"},"text":{"field":"label"}}},
{"data":{"name":"legend"},"transform":[{"filter":"false"}],"mark":{"type":"point","filled":true,"opacity":1,"strokeWidth":0,"size":784},
 "encoding":{
  "color":{"field":"series","type":"nominal","sort":null,"scale":{"domain":["bckgr","Calc","Obs","diff","Phase1"],"range":["#00ff00","#ff0000","#000000","#0000ff","#ff00ff"]},
   "legend":{"title":null,"orient":"none","legendX":948,"legendY":-6,"symbolSize":784,"symbolStrokeWidth":0,"symbolOpacity":1,"labelFontSize":11,"labelColor":"#333333","labelFont":"Open Sans","labelOffset":8,"rowPadding":8,"padding":0}},
  "shape":{"field":"series","type":"nominal","sort":null,"scale":{"domain":["bckgr","Calc","Obs","diff","Phase1"],"range":["M-1,-0.14H1V0.14H-1Z","M-1,-0.14H1V0.14H-1Z","M-0.36,-0.28L-0.28,-0.36L0.36,0.28L0.28,0.36Z M0.28,-0.36L0.36,-0.28L-0.28,0.36L-0.36,0.28Z","M-1,-0.14H1V0.14H-1Z","M-1,-0.13H1V0.13H-1Z M0.43,0A0.43,0.43,0,1,1,-0.43,0A0.43,0.43,0,1,1,0.43,0Z"]},
   "legend":{"title":null,"orient":"none","legendX":948,"legendY":-6,"symbolSize":784,"symbolStrokeWidth":0,"symbolOpacity":1,"labelFontSize":11,"labelColor":"#333333","labelFont":"Open Sans","labelOffset":8,"rowPadding":8,"padding":0}}}}
]
}
